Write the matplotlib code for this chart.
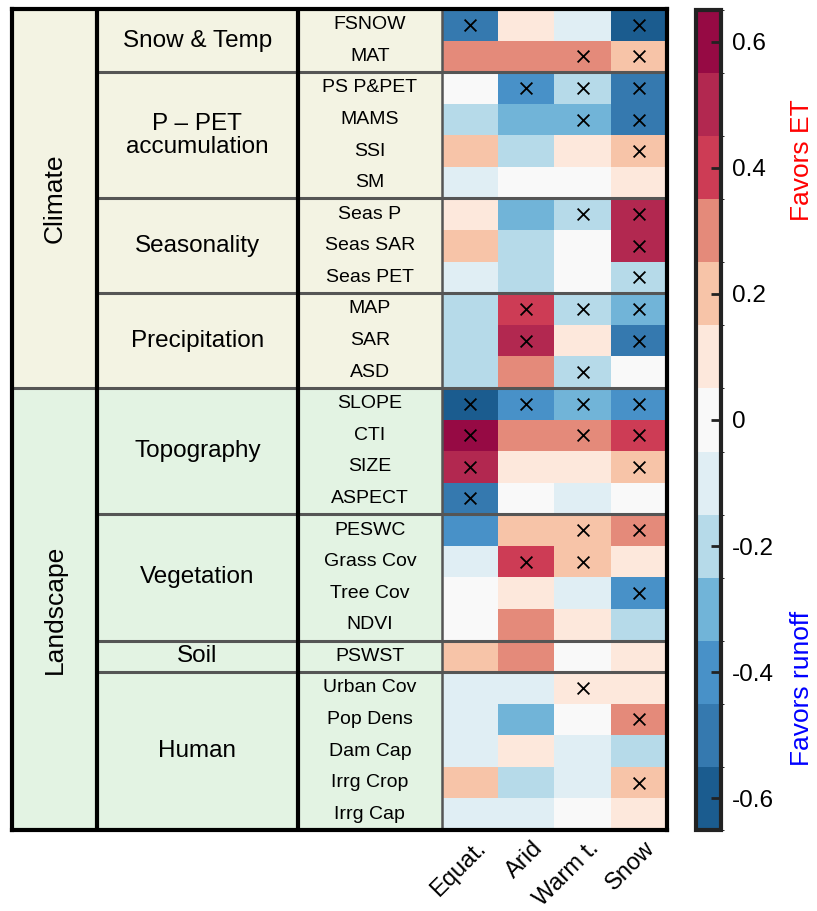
import matplotlib.pyplot as plt
import matplotlib.transforms as mtransforms
import numpy as np
from matplotlib.colors import BoundaryNorm, ListedColormap
from matplotlib.patches import Rectangle

plt.rcParams["font.family"] = ["Liberation Sans", "DejaVu Sans"]

zones = ["Equat.", "Arid", "Warm t.", "Snow"]

features = [
    "FSNOW", "MAT",
    "PS P&PET", "MAMS", "SSI", "SM",
    "Seas P", "Seas SAR", "Seas PET",
    "MAP", "SAR", "ASD",
    "SLOPE", "CTI", "SIZE", "ASPECT",
    "PESWC", "Grass Cov", "Tree Cov", "NDVI",
    "PSWST",
    "Urban Cov", "Pop Dens", "Dam Cap", "Irrg Crop", "Irrg Cap",
]

group_names = ["Snow & Temp", "P \u2013 PET\naccumulation", "Seasonality", "Precipitation",
               "Topography", "Vegetation", "Soil", "Human"]
group_sizes = [2, 4, 3, 3, 4, 4, 1, 5]

category_names = ["Climate", "Landscape"]
category_sizes = [12, 14]
category_colors = ["#f3f3e3", "#e3f3e3"]

# correlation per feature (rows) and climate zone (columns)
correlation = np.array([
    [-0.5, 0.1, -0.1, -0.6],
    [0.3, 0.3, 0.3, 0.2],
    [0.0, -0.4, -0.2, -0.5],
    [-0.2, -0.3, -0.3, -0.5],
    [0.2, -0.2, 0.1, 0.2],
    [-0.1, 0.0, 0.0, 0.1],
    [0.1, -0.3, -0.2, 0.5],
    [0.2, -0.2, 0.0, 0.5],
    [-0.1, -0.2, 0.0, -0.2],
    [-0.2, 0.4, -0.2, -0.3],
    [-0.2, 0.5, 0.1, -0.5],
    [-0.2, 0.3, -0.2, 0.0],
    [-0.6, -0.4, -0.3, -0.4],
    [0.6, 0.3, 0.3, 0.4],
    [0.5, 0.1, 0.1, 0.2],
    [-0.5, 0.0, -0.1, 0.0],
    [-0.4, 0.2, 0.2, 0.3],
    [-0.1, 0.4, 0.2, 0.1],
    [0.0, 0.1, -0.1, -0.4],
    [0.0, 0.3, 0.1, -0.2],
    [0.2, 0.3, 0.0, 0.1],
    [-0.1, -0.1, 0.1, 0.1],
    [-0.1, -0.3, 0.0, 0.3],
    [-0.1, 0.1, -0.1, -0.2],
    [0.2, -0.2, -0.1, 0.2],
    [-0.1, -0.1, 0.0, 0.1],
])

significant = np.array([
    [1, 0, 0, 1],
    [0, 0, 1, 1],
    [0, 1, 1, 1],
    [0, 0, 1, 1],
    [0, 0, 0, 1],
    [0, 0, 0, 0],
    [0, 0, 1, 1],
    [0, 0, 0, 1],
    [0, 0, 0, 1],
    [0, 1, 1, 1],
    [0, 1, 0, 1],
    [0, 0, 1, 0],
    [1, 1, 1, 1],
    [1, 0, 1, 1],
    [1, 0, 0, 1],
    [1, 0, 0, 0],
    [0, 0, 1, 1],
    [0, 1, 1, 0],
    [0, 0, 0, 1],
    [0, 0, 0, 0],
    [0, 0, 0, 0],
    [0, 0, 1, 0],
    [0, 0, 0, 1],
    [0, 0, 0, 0],
    [0, 0, 0, 1],
    [0, 0, 0, 0],
], dtype=bool)

level_colors = [
    "#1b5c8f", "#3579af", "#4891c8", "#71b4d8", "#b6dae9", "#e0eef4", "#f9f9f9",
    "#fde8dc", "#f7c4a8", "#e48a7a", "#cd3c55", "#b22850", "#960a44",
]
levels = np.linspace(-0.65, 0.65, 14)
cmap = ListedColormap(level_colors)
norm = BoundaryNorm(levels, cmap.N)

# table column edges, in heatmap column units (heatmap spans 0..4)
x_left, x_cat, x_group = -7.64, -6.13, -2.56
n_rows = len(features)

fig = plt.figure(figsize=(8.17, 9.11), dpi=100)
ax = fig.add_axes([12 / 817, 81 / 911, 655 / 817, 821 / 911])

mesh = ax.pcolormesh(np.arange(5), np.arange(n_rows + 1), correlation,
                     cmap=cmap, norm=norm, edgecolors="none", antialiased=False)

rows, cols = np.nonzero(significant)
ax.scatter(cols + 0.5, rows + 0.5, marker="x", s=72, c="black", linewidths=1.3, zorder=3)

# category backgrounds and labels
start = 0
for name, size, color in zip(category_names, category_sizes, category_colors):
    ax.add_patch(Rectangle((x_left, start), -x_left, size, facecolor=color,
                           edgecolor="none", zorder=0))
    ax.text((x_left + x_cat) / 2, start + size / 2, name, rotation=90,
            ha="center", va="center", fontsize=19)
    start += size

# group labels and separators
start = 0
for name, size in zip(group_names, group_sizes):
    ax.text((x_cat + x_group) / 2, start + size / 2, name, ha="center", va="center",
            fontsize=17.5, linespacing=1.05)
    start += size
    if start < n_rows:
        x_from = x_left if start == category_sizes[0] else x_cat
        ax.plot([x_from, 4], [start, start], color="#555555", lw=2.2,
                solid_capstyle="butt", zorder=4)

for i, name in enumerate(features):
    ax.text(x_group / 2, i + 0.5, name, ha="center", va="center", fontsize=14)

ax.vlines([x_cat, x_group], 0, n_rows, color="black", lw=3, zorder=5)
ax.vlines([0], 0, n_rows, color="#555555", lw=1.8, zorder=5)

ax.set_xlim(x_left, 4)
ax.set_ylim(n_rows, 0)
ax.set_yticks([])
ax.set_xticks(np.arange(4) + 0.5, zones, rotation=45, ha="right",
              rotation_mode="anchor", fontsize=17)
ax.tick_params(axis="x", length=0, pad=5)
shift = mtransforms.ScaledTranslation(5 / 100, 0, fig.dpi_scale_trans)
for label in ax.get_xticklabels():
    label.set_transform(label.get_transform() + shift)
for spine in ax.spines.values():
    spine.set_linewidth(3)
    spine.set_color("black")
    spine.set_zorder(6)

cax = fig.add_axes([696 / 817, 81 / 911, 25 / 817, 820 / 911])
cbar = fig.colorbar(mesh, cax=cax, boundaries=levels, ticks=np.arange(-0.6, 0.61, 0.2))
cbar.ax.set_yticklabels(["-0.6", "-0.4", "-0.2", "0", "0.2", "0.4", "0.6"])
cbar.ax.tick_params(direction="in", length=7, width=2, color="#222222",
                    labelsize=17.5, pad=8)
cbar.outline.set_linewidth(3)
cbar.outline.set_edgecolor("#222222")

fig.text(802 / 817, 1 - 160 / 911, "Favors ET", rotation=90, color="#ff0000",
         ha="center", va="center", fontsize=19)
fig.text(802 / 817, 1 - 688 / 911, "Favors runoff", rotation=90, color="#0000ff",
         ha="center", va="center", fontsize=19)

fig.savefig("out.png", dpi=100)
